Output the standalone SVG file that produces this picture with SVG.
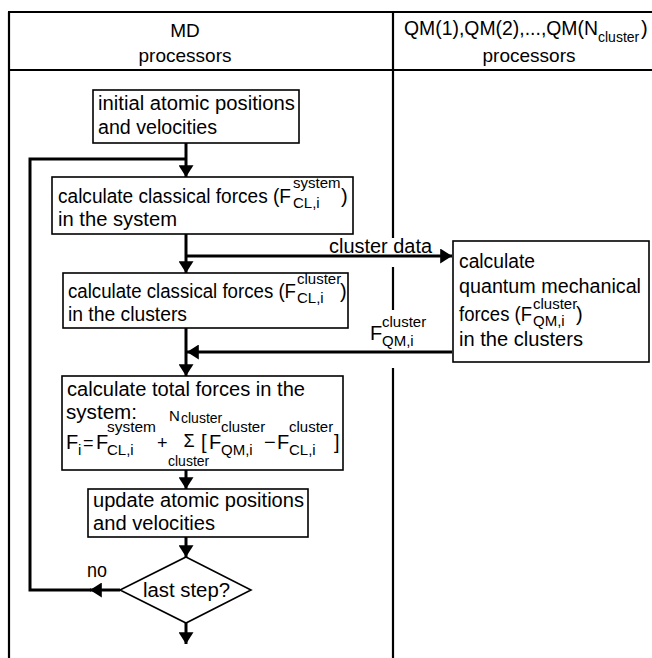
<svg xmlns="http://www.w3.org/2000/svg" width="652" height="658" viewBox="0 0 652 658">
  <style>
    text { font-family: "Liberation Sans", Arial, sans-serif; font-size: 20px; fill: #000; }
    .s { font-size: 15px; }
    .ss { font-size: 14px; }
    .box { fill: #fff; stroke: #000; stroke-width: 1.6; }
    .grid { fill: none; stroke: #000; stroke-width: 2.2; }
    .flow { fill: none; stroke: #000; stroke-width: 3; }
    .mid { text-anchor: middle; }
  </style>
  <defs>
    <marker id="arrow" viewBox="0 0 11 14" refX="11" refY="7" markerWidth="12" markerHeight="15" markerUnits="userSpaceOnUse" orient="auto">
      <path d="M0,0 L11,7 L0,14 z" fill="#000"/>
    </marker>
  </defs>

  <rect width="652" height="658" fill="#fff"/>

  <!-- table frame: two processor columns -->
  <g id="table">
    <path class="grid" d="M8,12 H652 M8,70 H652 M9,12 V658"/>
    <path class="grid" d="M393,12 V238 M393,267 V310 M393,368 V658"/>
    <text class="mid" x="185" y="37" style="font-size:19px">MD</text>
    <text class="mid" x="185" y="62" style="font-size:19px">processors</text>
    <text x="404" y="35" textLength="194" lengthAdjust="spacingAndGlyphs">QM(1),QM(2),...,QM(N</text>
    <text class="ss" x="598" y="42">cluster</text>
    <text x="641" y="35">)</text>
    <text class="mid" x="529" y="62" style="font-size:19px">processors</text>
  </g>

  <!-- connectors -->
  <g id="connectors">
    <path class="flow" d="M186,143 V177" marker-end="url(#arrow)"/>
    <path class="flow" d="M186,234 V273" marker-end="url(#arrow)"/>
    <path class="flow" d="M186,256 H452" marker-end="url(#arrow)"/>
    <path class="flow" d="M186,328 V376" marker-end="url(#arrow)"/>
    <path class="flow" d="M452,352 H187" marker-end="url(#arrow)"/>
    <path class="flow" d="M186,470 V489" marker-end="url(#arrow)"/>
    <path class="flow" d="M186,537 V557" marker-end="url(#arrow)"/>
    <path class="flow" d="M186,623 V644" marker-end="url(#arrow)"/>
    <path class="flow" d="M120,590 H90" marker-end="url(#arrow)"/>
    <path class="flow" d="M91,590 H30 V159 H186"/>
    <text x="329" y="253" textLength="103" lengthAdjust="spacingAndGlyphs">cluster data</text>
    <text x="370" y="340">F</text>
    <text class="s" x="382" y="327">cluster</text>
    <text class="s" x="382" y="346">QM,i</text>
    <text x="87" y="577" textLength="20" lengthAdjust="spacingAndGlyphs">no</text>
  </g>

  <g id="init">
    <rect class="box" x="93" y="90" width="206" height="53"/>
    <text x="98" y="110" textLength="197" lengthAdjust="spacingAndGlyphs">initial atomic positions</text>
    <text x="98" y="134" textLength="119" lengthAdjust="spacingAndGlyphs">and velocities</text>
  </g>

  <g id="classical-system">
    <rect class="box" x="52" y="177" width="301" height="57"/>
    <text x="58" y="203" textLength="233" lengthAdjust="spacingAndGlyphs">calculate classical forces (F</text>
    <text class="s" x="293" y="188">system</text>
    <text class="s" x="293" y="208">CL,i</text>
    <text x="341" y="203">)</text>
    <text x="58" y="226" textLength="119" lengthAdjust="spacingAndGlyphs">in the system</text>
  </g>

  <g id="classical-clusters">
    <rect class="box" x="63" y="273" width="285" height="55"/>
    <text x="68" y="298" textLength="228" lengthAdjust="spacingAndGlyphs">calculate classical forces (F</text>
    <text class="s" x="297" y="284">cluster</text>
    <text class="s" x="297" y="303">CL,i</text>
    <text x="340" y="298">)</text>
    <text x="68" y="321" textLength="119" lengthAdjust="spacingAndGlyphs">in the clusters</text>
  </g>

  <g id="quantum">
    <rect class="box" x="453" y="241" width="196" height="121"/>
    <text x="459" y="268" textLength="76" lengthAdjust="spacingAndGlyphs">calculate</text>
    <text x="459" y="293" textLength="182" lengthAdjust="spacingAndGlyphs">quantum  mechanical</text>
    <text x="459" y="321" textLength="73" lengthAdjust="spacingAndGlyphs">forces (F</text>
    <text class="s" x="533" y="309">cluster</text>
    <text class="s" x="533" y="326">QM,i</text>
    <text x="576" y="321">)</text>
    <text x="459" y="346" textLength="124" lengthAdjust="spacingAndGlyphs">in the clusters</text>
  </g>

  <g id="total">
    <rect class="box" x="62" y="376" width="281" height="94"/>
    <text x="67" y="396" textLength="238" lengthAdjust="spacingAndGlyphs">calculate total forces in the</text>
    <text x="66" y="419" textLength="71" lengthAdjust="spacingAndGlyphs">system:</text>
    <!-- F_i = F_CL + sum over clusters of (F_QM - F_CL) -->
    <text x="66" y="449">F</text>
    <text class="s" x="78" y="455">i</text>
    <text x="83" y="449" style="font-size:18px">=</text>
    <text x="96" y="449">F</text>
    <text class="s" x="107" y="432" textLength="49" lengthAdjust="spacingAndGlyphs">system</text>
    <text class="s" x="107" y="455">CL,i</text>
    <text x="157" y="449" style="font-size:18px">+</text>
    <text class="s" x="169" y="421">N</text>
    <text class="ss" x="181" y="423">cluster</text>
    <text x="189" y="447" class="mid" style="font-size:18px">Σ</text>
    <text class="ss" x="168" y="466">cluster</text>
    <text x="201" y="449">[</text>
    <text x="209" y="449">F</text>
    <text class="s" x="221" y="432">cluster</text>
    <text class="s" x="221" y="455">QM,i</text>
    <text x="264" y="449">−</text>
    <text x="277" y="449">F</text>
    <text class="s" x="289" y="432">cluster</text>
    <text class="s" x="289" y="455">CL,i</text>
    <text x="334" y="449">]</text>
  </g>

  <g id="update">
    <rect class="box" x="88" y="489" width="220" height="48"/>
    <text x="93" y="507" textLength="211" lengthAdjust="spacingAndGlyphs">update atomic positions</text>
    <text x="93" y="530" textLength="122" lengthAdjust="spacingAndGlyphs">and  velocities</text>
  </g>

  <g id="last-step">
    <polygon class="box" points="186,557 251,590 186,623 120,590"/>
    <text x="143" y="597" textLength="87" lengthAdjust="spacingAndGlyphs">last step?</text>
  </g>
</svg>
